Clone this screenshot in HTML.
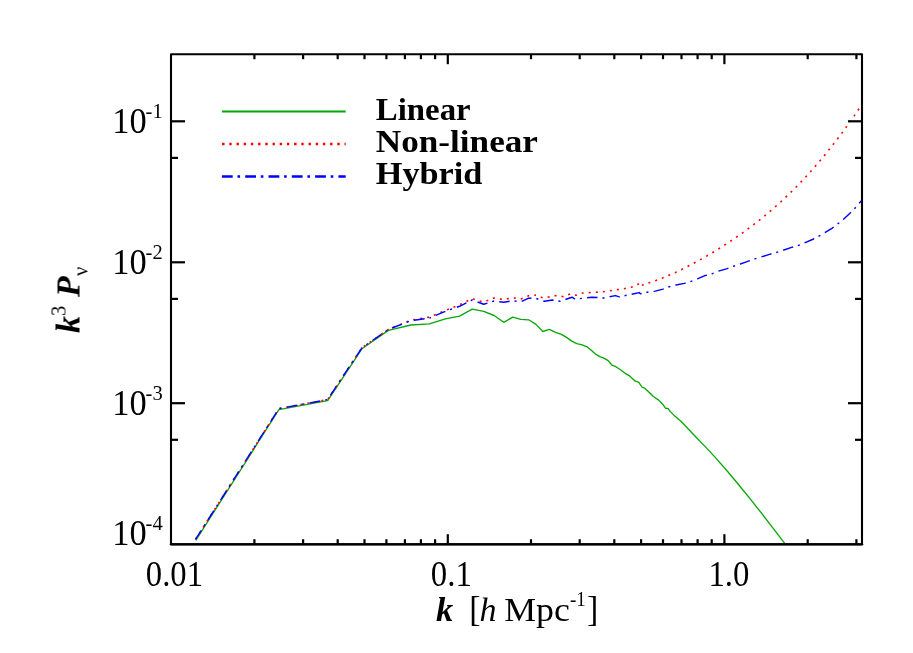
<!DOCTYPE html>
<html><head><meta charset="utf-8"><title>plot</title>
<style>
html,body{margin:0;padding:0;background:#fff;}
body{width:913px;height:653px;overflow:hidden;}
svg{display:block;font-family:"Liberation Serif",serif;}
</style></head><body>
<svg width="913" height="653" viewBox="0 0 913 653">
<rect width="913" height="653" fill="#fff"/>
<g fill="none" stroke-linejoin="round">
<polyline stroke="#08a808" stroke-width="1.35" points="195.8,540.4 278.9,409.6 327.7,400.6 361.9,348.8 388.4,330.4 410.9,325.0 429.4,323.8 445.4,318.8 459.6,316.1 472.2,309.2 483.7,311.3 494.1,315.5 503.8,322.3 512.7,317.2 520.9,319.4 528.7,319.8 536.0,324.4 542.9,331.5 549.3,329.4 555.5,332.4 561.4,334.4 566.1,337.1 572.2,341.4 576.8,343.7 582.2,344.8 587.6,347.2 592.1,351.1 596.0,354.4 599.8,356.7 604.4,358.3 608.2,360.6 612.0,365.2 615.9,366.7 620.5,369.7 625.1,373.3 629.6,375.9 635.0,380.9 638.8,382.3 641.9,387.0 645.0,388.4 648.8,391.9 653.4,396.5 658.7,400.1 662.6,404.2 665.6,408.3 667.9,408.3 670.2,411.4 674.8,416.1 681.5,421.8 693.0,434.0 704.5,445.9 715.9,458.1 727.4,471.2 738.9,485.0 750.4,499.2 761.9,513.7 773.4,528.7 784.9,543.6"/>
<polyline stroke="#ff0000" stroke-width="1.6" stroke-dasharray="2 5.08" stroke-dashoffset="7.07" points="195.5,539.4 278.9,408.6 327.6,399.6 361.9,347.8 388.4,329.4 410.9,320.2 429.4,317.1 445.4,310.5 459.6,304.7 472.2,298.7 483.7,302.1 494.1,298.0 503.8,299.5 512.7,297.7 520.9,299.0 528.7,295.8 536.0,295.1"/>
<polyline stroke="#ff0000" stroke-width="1.6" stroke-dasharray="2 5.08" stroke-dashoffset="1.91" points="536.0,295.1 542.7,297.9 549.7,296.9 557.0,295.4 563.5,296.7 570.0,293.9 576.0,295.2 582.6,293.0 595.7,292.3 603.0,291.7 610.0,290.8 616.8,289.7 624.0,288.7 631.2,287.2 636.3,285.5 638.3,284.0 640.6,286.0"/>
<polyline stroke="#ff0000" stroke-width="1.6" stroke-dasharray="2 5.08" stroke-dashoffset="5.71" points="640.6,286.0 644.2,284.2 650.0,282.5 656.0,280.4 662.0,278.2 668.0,275.7 674.0,273.1 680.0,270.3 686.0,267.3 692.0,264.2 698.0,261.0 704.0,257.6 710.0,254.1 716.0,250.5 722.0,246.8 728.0,242.9 734.0,238.9 740.0,234.7 746.0,230.4 752.0,225.9 758.0,221.2 764.0,216.4 770.0,211.4 776.0,206.1 782.0,200.7 788.0,195.0 794.0,189.2 800.0,183.0 806.0,176.6 812.0,170.0 818.0,163.1 824.0,156.0 830.0,148.5 836.0,140.8 842.0,132.9 848.0,124.6 854.0,116.1 860.0,107.4 862.0,104.4"/>

<polyline stroke="#0000ff" stroke-width="1.45" stroke-dasharray="10.8 5 2.2 5.3" stroke-dashoffset="0" points="195.5,539.4 278.9,408.6 327.6,399.6 361.9,347.8 388.4,329.4 410.9,320.6 429.4,318.1"/>
<polyline stroke="#0000ff" stroke-width="1.45" stroke-dasharray="10.5 4.9 2.1 5.2" stroke-dashoffset="15.87" points="429.4,318.1 445.4,311.3 459.6,306.3 472.2,300.0 483.7,304.3 494.1,301.0 503.8,302.3 512.7,300.8 520.9,301.7 528.7,298.1 536.0,298.4 544.5,301.3 552.3,300.0 560.2,301.2 572.0,297.2 575.3,299.2 591.8,297.2 603.6,298.0 615.4,295.6 619.4,296.9 639.1,292.6 640.4,293.7 646.9,292.3 655.3,291.1 663.0,289.1 669.1,286.8 676.0,285.0 684.4,283.4 690.5,281.6 697.4,278.8 704.3,275.8 712.0,273.8 718.0,271.2 726.5,268.9 733.4,266.3 740.3,264.0 745.0,262.4 754.6,258.9 761.4,256.9 770.3,254.1 776.5,252.5 782.7,250.4 791.6,247.4 797.7,245.7 803.6,243.2 812.4,239.5 818.2,236.5 823.7,233.3 831.9,228.3 837.4,224.2 842.5,220.1 849.7,213.5 854.5,208.7 858.6,203.9 861.7,200.6"/>

</g>
<g stroke="#000" stroke-width="2.2" fill="none">
<rect x="171.0" y="54.2" width="691.0" height="490.00000000000006" stroke-linejoin="round" stroke-width="2.1"/>
<line x1="171.0" y1="544.35" x2="862.0" y2="544.35" stroke-width="2.4" stroke-linecap="round"/>
<line x1="254.4" y1="544.2" x2="254.4" y2="539.2"/>
<line x1="254.4" y1="54.2" x2="254.4" y2="59.2"/>
<line x1="303.1" y1="544.2" x2="303.1" y2="539.2"/>
<line x1="303.1" y1="54.2" x2="303.1" y2="59.2"/>
<line x1="337.7" y1="544.2" x2="337.7" y2="539.2"/>
<line x1="337.7" y1="54.2" x2="337.7" y2="59.2"/>
<line x1="364.5" y1="544.2" x2="364.5" y2="539.2"/>
<line x1="364.5" y1="54.2" x2="364.5" y2="59.2"/>
<line x1="386.4" y1="544.2" x2="386.4" y2="539.2"/>
<line x1="386.4" y1="54.2" x2="386.4" y2="59.2"/>
<line x1="404.9" y1="544.2" x2="404.9" y2="539.2"/>
<line x1="404.9" y1="54.2" x2="404.9" y2="59.2"/>
<line x1="420.9" y1="544.2" x2="420.9" y2="539.2"/>
<line x1="420.9" y1="54.2" x2="420.9" y2="59.2"/>
<line x1="435.1" y1="544.2" x2="435.1" y2="539.2"/>
<line x1="435.1" y1="54.2" x2="435.1" y2="59.2"/>
<line x1="447.8" y1="544.2" x2="447.8" y2="534.2"/>
<line x1="447.8" y1="54.2" x2="447.8" y2="64.2"/>
<line x1="531.0" y1="544.2" x2="531.0" y2="539.2"/>
<line x1="531.0" y1="54.2" x2="531.0" y2="59.2"/>
<line x1="579.7" y1="544.2" x2="579.7" y2="539.2"/>
<line x1="579.7" y1="54.2" x2="579.7" y2="59.2"/>
<line x1="614.3" y1="544.2" x2="614.3" y2="539.2"/>
<line x1="614.3" y1="54.2" x2="614.3" y2="59.2"/>
<line x1="641.1" y1="544.2" x2="641.1" y2="539.2"/>
<line x1="641.1" y1="54.2" x2="641.1" y2="59.2"/>
<line x1="663.0" y1="544.2" x2="663.0" y2="539.2"/>
<line x1="663.0" y1="54.2" x2="663.0" y2="59.2"/>
<line x1="681.5" y1="544.2" x2="681.5" y2="539.2"/>
<line x1="681.5" y1="54.2" x2="681.5" y2="59.2"/>
<line x1="697.6" y1="544.2" x2="697.6" y2="539.2"/>
<line x1="697.6" y1="54.2" x2="697.6" y2="59.2"/>
<line x1="711.7" y1="544.2" x2="711.7" y2="539.2"/>
<line x1="711.7" y1="54.2" x2="711.7" y2="59.2"/>
<line x1="724.4" y1="544.2" x2="724.4" y2="534.2"/>
<line x1="724.4" y1="54.2" x2="724.4" y2="64.2"/>
<line x1="807.7" y1="544.2" x2="807.7" y2="539.2"/>
<line x1="807.7" y1="54.2" x2="807.7" y2="59.2"/>
<line x1="856.4" y1="544.2" x2="856.4" y2="539.2"/>
<line x1="856.4" y1="54.2" x2="856.4" y2="59.2"/>
<line x1="171.0" y1="439.8" x2="178.0" y2="439.8"/>
<line x1="862.0" y1="439.8" x2="855.0" y2="439.8"/>
<line x1="171.0" y1="403.2" x2="185.0" y2="403.2"/>
<line x1="862.0" y1="403.2" x2="848.0" y2="403.2"/>
<line x1="171.0" y1="298.9" x2="178.0" y2="298.9"/>
<line x1="862.0" y1="298.9" x2="855.0" y2="298.9"/>
<line x1="171.0" y1="262.3" x2="185.0" y2="262.3"/>
<line x1="862.0" y1="262.3" x2="848.0" y2="262.3"/>
<line x1="171.0" y1="157.9" x2="178.0" y2="157.9"/>
<line x1="862.0" y1="157.9" x2="855.0" y2="157.9"/>
<line x1="171.0" y1="121.3" x2="185.0" y2="121.3"/>
<line x1="862.0" y1="121.3" x2="848.0" y2="121.3"/>
</g>
<g fill="none">
<line x1="221.9" y1="111.5" x2="345.7" y2="111.5" stroke="#00a800" stroke-width="2.2"/>
<line x1="222.1" y1="144" x2="345.7" y2="144" stroke="#ff0000" stroke-width="2.4" stroke-dasharray="2.4 4.8"/>
<line x1="221.9" y1="176.5" x2="345.7" y2="176.5" stroke="#0000ff" stroke-width="2.3" stroke-dasharray="10.8 4.8 2.6 5.1"/>
</g>
<g fill="#000" style="opacity:0.999">
<g font-weight="bold" font-size="31.6">
<text x="375.8" y="119.6" textLength="94.9" lengthAdjust="spacingAndGlyphs">Linear</text>
<text x="375.8" y="151.6" textLength="162.2" lengthAdjust="spacingAndGlyphs">Non-linear</text>
<text x="375.8" y="183.8" textLength="106.6" lengthAdjust="spacingAndGlyphs">Hybrid</text>
</g>
<text x="146.6" y="133.2" text-anchor="end" font-size="35.5" textLength="34.4" lengthAdjust="spacingAndGlyphs">10</text><text x="145.6" y="118.0" font-size="20.5">-1</text>
<text x="146.6" y="274.2" text-anchor="end" font-size="35.5" textLength="34.4" lengthAdjust="spacingAndGlyphs">10</text><text x="145.6" y="259.0" font-size="20.5">-2</text>
<text x="146.6" y="415.1" text-anchor="end" font-size="35.5" textLength="34.4" lengthAdjust="spacingAndGlyphs">10</text><text x="145.6" y="399.9" font-size="20.5">-3</text>
<text x="146.6" y="545.0" text-anchor="end" font-size="35.5" textLength="34.4" lengthAdjust="spacingAndGlyphs">10</text><text x="145.6" y="529.8" font-size="20.5">-4</text>

<g font-size="35.5" text-anchor="middle" lengthAdjust="spacingAndGlyphs">
<text x="174.4" y="585.5" textLength="57.2" lengthAdjust="spacingAndGlyphs">0.01</text>
<text x="451.3" y="585.5" textLength="41" lengthAdjust="spacingAndGlyphs">0.1</text>
<text x="728.9" y="585.5" textLength="41" lengthAdjust="spacingAndGlyphs">1.0</text>
</g>
<g font-size="34">
<text x="436" y="620.6" font-style="italic" font-weight="bold" textLength="17.2" lengthAdjust="spacingAndGlyphs">k</text>
<text x="469.3" y="621.05" font-size="36.3" textLength="11.3" lengthAdjust="spacingAndGlyphs">[</text>
<text x="479.5" y="620.6" font-style="italic">h</text>
<text x="504.2" y="620.6" textLength="65.6" lengthAdjust="spacingAndGlyphs">Mpc</text>
<text x="570" y="606" font-size="20.5" textLength="15.8" lengthAdjust="spacingAndGlyphs">-1</text>
<text x="586.9" y="621.05" font-size="36.3" textLength="11.3" lengthAdjust="spacingAndGlyphs">]</text>
</g>
<g transform="translate(79.5,333) rotate(-90)" font-size="34">
<text x="0" y="0" font-style="italic" font-weight="bold">k</text>
<text x="17" y="-14.5" font-size="20.5">3</text>
<text x="36" y="0" font-style="italic" font-weight="bold">P</text>
<text x="57" y="7.5" font-size="20.5">ν</text>
</g>
</g>
</svg>
</body></html>
